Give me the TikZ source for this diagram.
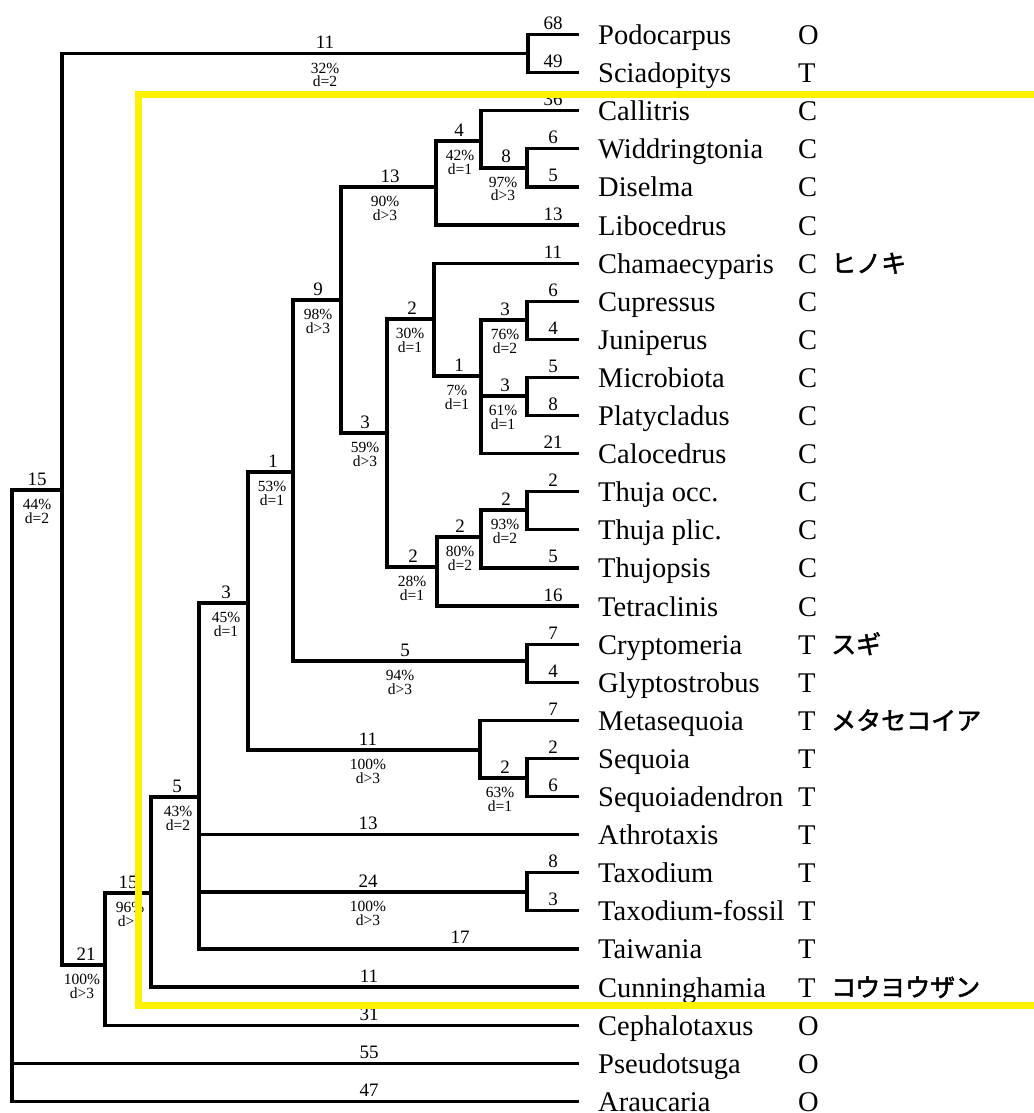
\documentclass[tikz,border=0pt]{standalone}
\usepackage{fontspec}
\setmainfont{Liberation Serif}
\newfontfamily\cjk[FakeBold=2]{Noto Sans CJK JP}
\begin{document}
\begin{tikzpicture}[x=1pt,y=-1pt,
  br/.style={line width=3.2pt, line cap=rect, line join=miter},
  num/.style={font=\fontsize{19}{19}\selectfont, inner sep=0pt, anchor=base},
  supp/.style={font=\fontsize{15.5}{13.5}\selectfont, inner sep=0pt, anchor=north, align=center},
  leaf/.style={font=\fontsize{28.5}{28.5}\selectfont, inner sep=0pt, anchor=base west},
  jp/.style={font=\fontsize{25}{25}\selectfont\cjk, inner sep=0pt, anchor=base west}]
\useasboundingbox (0,0) rectangle (1033,1113);
\fill[white] (0,0) rectangle (1033,1113);

% leaves
\foreach \i/\nm/\ct in {0/Podocarpus/O,1/Sciadopitys/T,2/Callitris/C,3/Widdringtonia/C,4/Diselma/C,5/Libocedrus/C,6/Chamaecyparis/C,7/Cupressus/C,8/Juniperus/C,9/Microbiota/C,10/Platycladus/C,11/Calocedrus/C,12/Thuja occ./C,13/Thuja plic./C,14/Thujopsis/C,15/Tetraclinis/C,16/Cryptomeria/T,17/Glyptostrobus/T,18/Metasequoia/T,19/Sequoia/T,20/Sequoiadendron/T,21/Athrotaxis/T,22/Taxodium/T,23/Taxodium-fossil/T,24/Taiwania/T,25/Cunninghamia/T,26/Cephalotaxus/O,27/Pseudotsuga/O,28/Araucaria/O}{
  \coordinate (t\i) at (577,34.5+38.1*\i);
  \node[leaf] (n\i) at (598,44.5+38.1*\i) {\nm};
  \node[leaf] (c\i) at (798,44.5+38.1*\i) {\ct};
}

% internal nodes
\coordinate (root) at (12,490);
\coordinate (B) at (62,490);
\coordinate (PS) at (528,53.5);
\coordinate (C) at (105,965);
\coordinate (D) at (151,893);
\coordinate (E) at (199,797);
\coordinate (F) at (248,603);
\coordinate (I) at (293,472);
\coordinate (J) at (341,300);
\coordinate (K) at (436,187);
\coordinate (L) at (481,141);
\coordinate (M) at (527,167.9);
\coordinate (N) at (387,433);
\coordinate (O) at (434,319);
\coordinate (Q) at (481,376);
\coordinate (R) at (527,320);
\coordinate (S) at (527,396);
\coordinate (P) at (437,567);
\coordinate (T) at (481,537);
\coordinate (U) at (527,510);
\coordinate (CG) at (527,661);
\coordinate (G) at (480,750);
\coordinate (H) at (527,778);
\coordinate (TX) at (527,892);

% branches
\draw[br] (root) |- (B);
\draw[br] (root) |- (t27);
\draw[br] (root) |- (t28);
\draw[br] (B) |- (PS);
\draw[br] (B) |- (C);
\draw[br] (PS) |- (t0);
\draw[br] (PS) |- (t1);
\draw[br] (C) |- (D);
\draw[br] (C) |- (t26);
\draw[br] (D) |- (E);
\draw[br] (D) |- (t25);
\draw[br] (E) |- (F);
\draw[br] (E) |- (t21);
\draw[br] (E) |- (TX);
\draw[br] (E) |- (t24);
\draw[br] (TX) |- (t22);
\draw[br] (TX) |- (t23);
\draw[br] (F) |- (I);
\draw[br] (F) |- (G);
\draw[br] (G) |- (t18);
\draw[br] (G) |- (H);
\draw[br] (H) |- (t19);
\draw[br] (H) |- (t20);
\draw[br] (I) |- (J);
\draw[br] (I) |- (CG);
\draw[br] (CG) |- (t16);
\draw[br] (CG) |- (t17);
\draw[br] (J) |- (K);
\draw[br] (J) |- (N);
\draw[br] (K) |- (L);
\draw[br] (K) |- (t5);
\draw[br] (L) |- (t2);
\draw[br] (L) |- (M);
\draw[br] (M) |- (t3);
\draw[br] (M) |- (t4);
\draw[br] (N) |- (O);
\draw[br] (N) |- (P);
\draw[br] (O) |- (t6);
\draw[br] (O) |- (Q);
\draw[br] (Q) |- (R);
\draw[br] (Q) |- (S);
\draw[br] (Q) |- (t11);
\draw[br] (R) |- (t7);
\draw[br] (R) |- (t8);
\draw[br] (S) |- (t9);
\draw[br] (S) |- (t10);
\draw[br] (P) |- (T);
\draw[br] (P) |- (t15);
\draw[br] (T) |- (U);
\draw[br] (T) |- (t14);
\draw[br] (U) |- (t12);
\draw[br] (U) |- (t13);

% internal branch labels
\node[num] (lB) at (37,485) {15};
\node[supp] (sB) at (37,499) {44\%\\d=2};
\node[num] (lPS) at (325,48.5) {11};
\node[supp] (sPS) at (325,62.5) {32\%\\d=2};
\node[num] (lC) at (86,960) {21};
\node[supp] (sC) at (82,974) {100\%\\d>3};
\node[num] (lD) at (128,888) {15};
\node[supp] (sD) at (130,902) {96\%\\d>3};
\node[num] (lE) at (177,792) {5};
\node[supp] (sE) at (178,806) {43\%\\d=2};
\node[num] (lF) at (226,598) {3};
\node[supp] (sF) at (226,612) {45\%\\d=1};
\node[num] (lI) at (273,467) {1};
\node[supp] (sI) at (272,481) {53\%\\d=1};
\node[num] (lJ) at (318,295) {9};
\node[supp] (sJ) at (318,309) {98\%\\d>3};
\node[num] (lK) at (390,182) {13};
\node[supp] (sK) at (385,196) {90\%\\d>3};
\node[num] (lL) at (459,136) {4};
\node[supp] (sL) at (460,150) {42\%\\d=1};
\node[num] (lM) at (506,162.9) {8};
\node[supp] (sM) at (503,176.9) {97\%\\d>3};
\node[num] (lN) at (365,428) {3};
\node[supp] (sN) at (365,442) {59\%\\d>3};
\node[num] (lO) at (412,314) {2};
\node[supp] (sO) at (410,328) {30\%\\d=1};
\node[num] (lQ) at (459,371) {1};
\node[supp] (sQ) at (457,385) {7\%\\d=1};
\node[num] (lR) at (505,315) {3};
\node[supp] (sR) at (505,329) {76\%\\d=2};
\node[num] (lS) at (505,391) {3};
\node[supp] (sS) at (503,405) {61\%\\d=1};
\node[num] (lP) at (413,562) {2};
\node[supp] (sP) at (412,576) {28\%\\d=1};
\node[num] (lT) at (460,532) {2};
\node[supp] (sT) at (460,546) {80\%\\d=2};
\node[num] (lU) at (506,505) {2};
\node[supp] (sU) at (505,519) {93\%\\d=2};
\node[num] (lCG) at (405,656) {5};
\node[supp] (sCG) at (400,670) {94\%\\d>3};
\node[num] (lG) at (368,745) {11};
\node[supp] (sG) at (368,759) {100\%\\d>3};
\node[num] (lH) at (505,773) {2};
\node[supp] (sH) at (500,787) {63\%\\d=1};
\node[num] (lTX) at (368,887) {24};
\node[supp] (sTX) at (368,901) {100\%\\d>3};

% terminal branch labels
\foreach \i/\v in {0/68,1/49,2/36,3/6,4/5,5/13,6/11,7/6,8/4,9/5,10/8,11/21,12/2,14/5,15/16,16/7,17/4,18/7,19/2,20/6,22/8,23/3}{
  \node[num] (b\i) at (553,29.5+38.1*\i) {\v};
}
\foreach \i/\v/\xx in {21/13/368,24/17/460,25/11/369,26/31/369,27/55/369,28/47/369}{
  \node[num] (b\i) at (\xx,29.5+38.1*\i) {\v};
}

% Japanese names
\node[jp] (j6) at (831,272.6) {ヒノキ};
\node[jp] (j16) at (831,653.6) {スギ};
\node[jp] (j18) at (831,729.8) {メタセコイア};
\node[jp] (j25) at (831,996.5) {コウヨウザン};

% yellow frame
\draw[yellow, line width=7pt] (1045,94.5) -| (138.5,1005) -- (1045,1005);
\end{tikzpicture}
\end{document}
